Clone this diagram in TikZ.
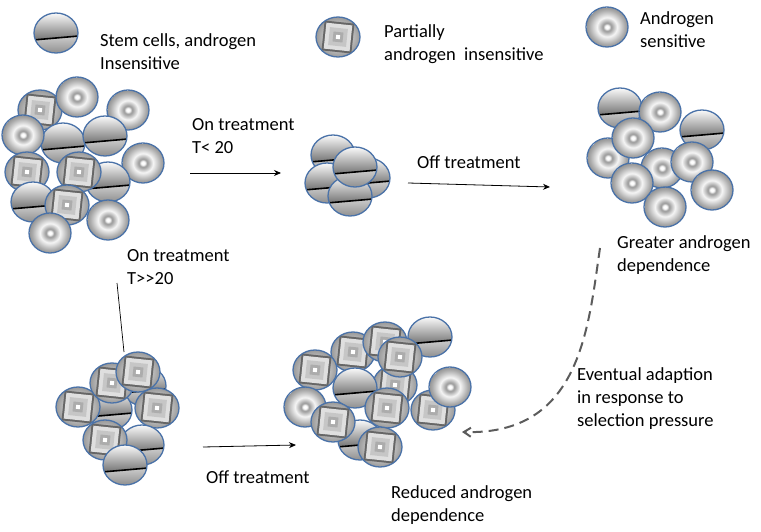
\documentclass[tikz,border=0pt]{standalone}
\usepackage{fontspec}
\setmainfont{Carlito}
\usetikzlibrary{arrows.meta}
\pgfdeclareradialshading{sens}{\pgfpoint{0bp}{0bp}}{color(0bp)=(white);color(2bp)=(white);color(5bp)=(gray!80);color(12bp)=(white!92!gray);color(21bp)=(gray!65);color(25bp)=(gray!85)}
\definecolor{rim}{HTML}{4A72A8}
\tikzset{
  rimline/.style={draw=rim,line width=1.3pt},
  lbl/.style={font=\fontsize{18.5pt}{23pt}\selectfont,align=left,anchor=north west,inner sep=0pt},
  arr/.style={-{Stealth[length=7pt,width=6pt]},line width=0.8pt},
  stem/.pic={
    \begin{scope}
      \clip (0,0) ellipse [x radius=22,y radius=20];
      \shade[top color=white,bottom color=gray!90!black] (-23,-21) -- (23,-21) -- (23,3) -- (-23,7) -- cycle;
      \shade[top color=gray!40,bottom color=gray!90] (-23,7) -- (23,3) -- (23,21) -- (-23,21) -- cycle;
      \draw[black,line width=1.6pt] (-23,7) -- (23,3);
    \end{scope}
    \draw[rimline] (0,0) ellipse [x radius=22,y radius=20];},
  partial/.pic={
    \shade[shading=radial,inner color=white,outer color=gray!80] (0,0) ellipse [x radius=22,y radius=20];
    \begin{scope}[rotate=-6]
      \fill[gray!80!black] (-15,-15) rectangle (15,15);
      \fill[gray!25] (-13,-13) rectangle (13,13);
      \fill[gray!45] (-9,-9) rectangle (9,9);
      \fill[gray!65] (-5,-5) rectangle (5,5);
      \fill[white] (-2,-2) rectangle (2,2);
    \end{scope}
    \draw[rimline] (0,0) ellipse [x radius=22,y radius=20];},
  sensitive/.pic={
    \shade[shading=sens] (0,0) ellipse [x radius=21,y radius=20];
    \draw[rimline] (0,0) ellipse [x radius=21,y radius=20];}
}
\begin{document}
\begin{tikzpicture}[x=1pt,y=-1pt]
\useasboundingbox (0,0) rectangle (761,532);
% legend
\pic at (56,33) {stem};
\pic at (338,37) {partial};
\pic at (607,27) {sensitive};
\node[lbl] (l1) at (100,33) {Stem cells, androgen\\Insensitive};
\node[lbl] (l2) at (384,24) {Partially\\ androgen\ \ insensitive};
\node[lbl] (l3) at (640,11) {Androgen\\sensitive};
% cluster 1
\pic at (40,110) {partial};
\pic at (77,97) {sensitive};
\pic at (128,110) {sensitive};
\pic at (63,143) {stem};
\pic at (105,136) {stem};
\pic at (23,135) {sensitive};
\pic at (143,163) {sensitive};
\pic at (108,182) {stem};
\pic at (27,172) {partial};
\pic at (79,172) {partial};
\pic at (33,202) {stem};
\pic at (67,205) {partial};
\pic at (108,220) {sensitive};
\pic at (50,233) {sensitive};
% cluster 2
\pic at (333,155) {stem};
\pic at (368,178) {stem};
\pic at (327,183) {stem};
\pic at (350,196) {stem};
\pic at (355,167) {stem};
% cluster 3
\pic at (620,108) {stem};
\pic at (702,130) {stem};
\pic at (660,112) {sensitive};
\pic at (608,158) {sensitive};
\pic at (662,168) {sensitive};
\pic at (633,138) {sensitive};
\pic at (692,162) {sensitive};
\pic at (712,190) {sensitive};
\pic at (632,183) {sensitive};
\pic at (665,207) {sensitive};
% cluster 4
\pic at (144,386) {stem};
\pic at (110,410) {stem};
\pic at (78,407) {partial};
\pic at (112,383) {partial};
\pic at (138,372) {partial};
\pic at (157,408) {partial};
\pic at (142,445) {stem};
\pic at (105,440) {partial};
\pic at (125,465) {stem};
% cluster 5
\pic at (430,337) {stem};
\pic at (395,385) {partial};
\pic at (433,410) {partial};
\pic at (450,387) {sensitive};
\pic at (353,352) {partial};
\pic at (385,342) {partial};
\pic at (400,357) {partial};
\pic at (315,370) {partial};
\pic at (355,388) {stem};
\pic at (305,407) {sensitive};
\pic at (360,440) {stem};
\pic at (387,408) {partial};
\pic at (333,422) {partial};
\pic at (380,447) {partial};
% texts
\node[lbl] (t1) at (192,118) {On treatment\\T< 20};
\node[lbl] (t2) at (417,156) {Off treatment};
\node[lbl] (t3) at (617,235) {Greater androgen\\dependence};
\node[lbl] (t4) at (127,249) {On treatment\\T>{}>20};
\node[lbl] (t5) at (577,367) {Eventual adaption\\in response to\\selection pressure};
\node[lbl] (t6) at (206,471) {Off treatment};
\node[lbl] (t7) at (391,485) {Reduced androgen\\dependence};
% connectors
\coordinate (a1) at (190,173); \coordinate (b1) at (281,173);
\draw[arr] (a1) -- (b1);
\coordinate (a2) at (408,183); \coordinate (b2) at (550,187);
\draw[arr] (a2) -- (b2);
\coordinate (a3) at (203,447); \coordinate (b3) at (296,445);
\draw[arr] (a3) -- (b3);
\coordinate (a4) at (117,283); \coordinate (b4) at (124,352);
\draw[line width=0.7pt] (a4) -- (b4);
\coordinate (a5) at (600,248); \coordinate (b5) at (462,432);
\draw[-{Straight Barb[length=7pt,width=9pt]},dashed,dash pattern=on 10pt off 6pt,line width=2pt,draw=gray!30!black!75] (a5) .. controls (588,330) and (580,435) .. (b5);
\end{tikzpicture}
\end{document}
